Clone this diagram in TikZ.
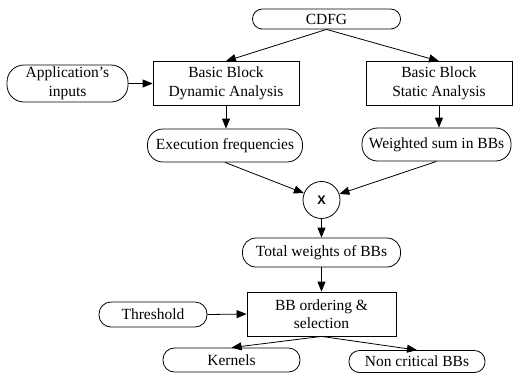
\documentclass[tikz,border=0pt]{standalone}
\usepackage{fontspec}
\setmainfont{Liberation Serif}
\newfontfamily\xsans{Liberation Sans}
\usetikzlibrary{arrows.meta}
\begin{document}
\begin{tikzpicture}[x=1pt,y=-1pt,
  every node/.style={font=\fontsize{15.5}{18.5}\selectfont, inner sep=0pt, align=center, line width=0.8pt, draw=black},
  pill/.style={rounded corners=#1},
  pill/.default=15pt,
  boxnode/.style={rectangle},
  arr/.style={draw=black, line width=0.8pt, -{Triangle[length=10pt,width=8pt]}}]
\useasboundingbox (0,0) rectangle (513,373);
\node[pill=9.8pt, minimum width=148pt, minimum height=20pt] (cdfg) at (326.5,19) {CDFG};
\node[boxnode, minimum width=146pt, minimum height=44pt] (dyn) at (226,83.5) {Basic Block\\Dynamic Analysis};
\node[boxnode, minimum width=146pt, minimum height=44pt] (stat) at (439,83.5) {Basic Block\\Static Analysis};
\node[pill=17pt, minimum width=121pt, minimum height=37pt] (app) at (67.5,83.5) {Application's\\inputs};
\node[pill=15.5pt, minimum width=155pt, minimum height=33pt] (exec) at (225,145.5) {Execution frequencies};
\node[pill=15.5pt, minimum width=149pt, minimum height=33pt] (wsum) at (436.5,144.5) {Weighted sum in BBs};
\node[circle, minimum size=37pt, font=\xsans\bfseries\fontsize{12.5}{14}\selectfont] (x) at (321.5,200) {X};
\node[pill=13.5pt, minimum width=158pt, minimum height=29pt] (total) at (321.5,252.5) {Total weights of BBs};
\node[boxnode, minimum width=149pt, minimum height=44pt] (order) at (321.5,314) {BB ordering \&\\selection};
\node[pill=12pt, minimum width=108pt, minimum height=25pt] (thr) at (153,314.5) {Threshold};
\node[pill=11.5pt, minimum width=137pt, minimum height=24pt] (kern) at (231.5,360) {Kernels};
\node[pill=10.5pt, minimum width=136pt, minimum height=22pt] (noncrit) at (417,361.5) {Non critical BBs};
\draw[arr] (cdfg.south) -- (dyn.north);
\draw[arr] (cdfg.south) -- (stat.north);
\draw[arr] (app.east) -- (dyn.west);
\draw[arr] (dyn.south) -- (dyn.south |- exec.north);
\draw[arr] (stat.south) -- (stat.south |- wsum.north);
\draw[arr] (exec.south) -- (x);
\draw[arr] (wsum.south) -- (x);
\draw[arr] (x.south) -- (total.north);
\draw[arr] (total.south) -- (order.north);
\draw[arr] (thr.east) -- (order.west);
\draw[arr] (order.south) -- (kern.north);
\draw[arr] (order.south) -- (noncrit.north);
\end{tikzpicture}
\end{document}
